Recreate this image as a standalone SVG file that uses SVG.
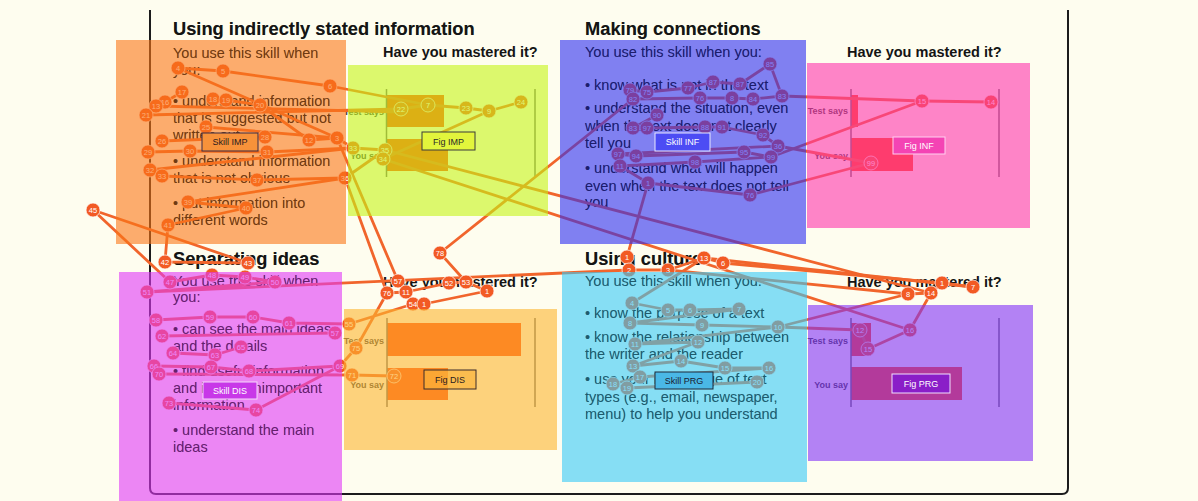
<svg xmlns="http://www.w3.org/2000/svg" width="1198" height="501" viewBox="0 0 1198 501">
<defs>
<style>
  .pg{font-family:"Liberation Sans",Arial,sans-serif;fill:#141414}
  .h{font-size:18.3px;font-weight:bold}
  .hm{font-size:14.5px;font-weight:bold}
  .b{font-size:14.5px}
  .lab{font-family:"Liberation Sans",Arial,sans-serif;font-size:9px;font-weight:bold;fill:#3a3a3a;text-anchor:end}
  .axis{stroke:#6a6a6a;stroke-width:1.5}
  .bar{fill:#ff4a12}
  .lk{fill:none;stroke:#f1652c;stroke-width:2.8;stroke-linejoin:round;stroke-linecap:round}
  .fx circle{fill:#f25a24;stroke:#ffffff;stroke-opacity:.7;stroke-width:1}
  .fx text{font-family:"Liberation Sans",Arial,sans-serif;font-size:7.5px;fill:#ffffff;text-anchor:middle}
  .aoi{fill-opacity:.6}
  .tag rect{stroke-width:1}
  .tag text{font-family:"Liberation Sans",Arial,sans-serif;font-size:9px;text-anchor:middle}
</style>
<!-- turns any drawing into a black silhouette -->
<filter id="silhouette" x="0" y="0" width="1" height="1">
  <feColorMatrix type="matrix" values="0 0 0 0 0  0 0 0 0 0  0 0 0 0 0  0 0 0 1 0"/>
</filter>
<!-- keeps the text shade off the gaze marks -->
<mask id="gaze-free" maskUnits="userSpaceOnUse" x="0" y="0" width="1198" height="501">
  <rect x="0" y="0" width="1198" height="501" fill="#ffffff"/>
  <g filter="url(#silhouette)">
    <use href="#saccades"/>
    <use href="#fixations"/>
  </g>
</mask>
</defs>

<!-- page background and frame -->
<rect x="0" y="0" width="1198" height="501" fill="#fefdef"/>
<path d="M150,10 V488 Q150,494 156,494 H1062 Q1068,494 1068,488 V10" fill="none" stroke="#1c1c1c" stroke-width="2"/>

<!-- section: Using indirectly stated information -->
<g id="sec-imp" class="pg">
  <text class="h" x="173" y="35">Using indirectly stated information</text>
  <text class="b" x="173" y="58">You use this skill when</text>
  <text class="b" x="173" y="75">you:</text>
  <text class="b" x="173" y="106">• understand information</text>
  <text class="b" x="173" y="123">that is suggested but not</text>
  <text class="b" x="173" y="140">written out</text>
  <text class="b" x="173" y="166">• understand information</text>
  <text class="b" x="173" y="183">that is not obvious</text>
  <text class="b" x="173" y="208">• put information into</text>
  <text class="b" x="173" y="225">different words</text>
</g>

<!-- section: Making connections -->
<g id="sec-inf" class="pg">
  <text class="h" x="585" y="35">Making connections</text>
  <text class="b" x="585" y="57">You use this skill when you:</text>
  <text class="b" x="585" y="90">• know what is not in the text</text>
  <text class="b" x="585" y="113">• understand the situation, even</text>
  <text class="b" x="585" y="131">when the text does not clearly</text>
  <text class="b" x="585" y="148">tell you</text>
  <text class="b" x="585" y="173">• understand what will happen</text>
  <text class="b" x="585" y="191">even when the text does not tell</text>
  <text class="b" x="585" y="207">you</text>
</g>

<!-- section: Separating ideas -->
<g id="sec-dis" class="pg">
  <text class="h" x="173" y="265">Separating ideas</text>
  <text class="b" x="173" y="286">You use this skill when</text>
  <text class="b" x="173" y="302">you:</text>
  <text class="b" x="173" y="334">• can see the main ideas</text>
  <text class="b" x="173" y="351">and the details</text>
  <text class="b" x="173" y="376">• find useful information</text>
  <text class="b" x="173" y="393">and ignore unimportant</text>
  <text class="b" x="173" y="410">information</text>
  <text class="b" x="173" y="435">• understand the main</text>
  <text class="b" x="173" y="452">ideas</text>
</g>

<!-- section: Using culture -->
<g id="sec-prg" class="pg">
  <text class="h" x="585" y="265">Using culture</text>
  <text class="b" x="585" y="286">You use this skill when you:</text>
  <text class="b" x="585" y="318">• know the purpose of a text</text>
  <text class="b" x="585" y="342">• know the relationship between</text>
  <text class="b" x="585" y="359">the writer and the reader</text>
  <text class="b" x="585" y="384">• use your knowledge of text</text>
  <text class="b" x="585" y="402">types (e.g., email, newspaper,</text>
  <text class="b" x="585" y="419">menu) to help you understand</text>
</g>

<!-- self-check charts -->
<g id="chart-imp">
  <text class="pg hm" x="383" y="57">Have you mastered it?</text>
  <rect class="bar" x="387" y="95" width="57" height="32"/>
  <rect class="bar" x="387" y="139" width="61" height="32"/>
  <line class="axis" x1="386.5" y1="89" x2="386.5" y2="177"/>
  <line class="axis" x1="535" y1="89" x2="535" y2="177"/>
  <text class="lab" x="384" y="115">Test says</text>
  <text class="lab" x="384" y="159">You say</text>
</g>
<g id="chart-inf">
  <text class="pg hm" x="847" y="57">Have you mastered it?</text>
  <rect class="bar" x="851" y="95" width="7" height="32"/>
  <rect class="bar" x="851" y="138" width="62" height="33"/>
  <line class="axis" x1="851" y1="89" x2="851" y2="177"/>
  <line class="axis" x1="999" y1="89" x2="999" y2="177"/>
  <text class="lab" x="848" y="114">Test says</text>
  <text class="lab" x="848" y="159">You say</text>
</g>
<g id="chart-dis">
  <text class="pg hm" x="383" y="287">Have you mastered it?</text>
  <rect class="bar" x="387" y="323" width="134" height="33"/>
  <rect class="bar" x="387" y="368" width="61" height="32"/>
  <line class="axis" x1="387" y1="318" x2="387" y2="407"/>
  <line class="axis" x1="535" y1="318" x2="535" y2="407"/>
  <text class="lab" x="384" y="344">Test says</text>
  <text class="lab" x="384" y="388">You say</text>
</g>
<g id="chart-prg">
  <text class="pg hm" x="847" y="287">Have you mastered it?</text>
  <rect class="bar" x="851" y="323" width="20" height="33"/>
  <rect class="bar" x="851" y="367" width="111" height="33"/>
  <line class="axis" x1="851" y1="318" x2="851" y2="407"/>
  <line class="axis" x1="999" y1="318" x2="999" y2="407"/>
  <text class="lab" x="848" y="344">Test says</text>
  <text class="lab" x="848" y="388">You say</text>
</g>

<!-- gaze plot: saccades -->
<g id="saccades" class="lk">
  <polyline points="178,68 223,71 330,86 428,105"/>
  <polyline points="178,68 337,138"/>
  <polyline points="146,115 401,109"/>
  <polyline points="156,106 401,112"/>
  <polyline points="165,102 182,92"/>
  <polyline points="213,99 226,100 260,105 309,140 337,138 353,148 385,150"/>
  <polyline points="206,127 337,138"/>
  <polyline points="162,141 265,137"/>
  <polyline points="148,152 190,151 267,152 353,148"/>
  <polyline points="150,170 353,148"/>
  <polyline points="162,176 257,180 345,178"/>
  <polyline points="345,178 188,202 246,208 168,225 165,262 248,263"/>
  <polyline points="345,178 385,150"/>
  <polyline points="345,178 387,293"/>
  <polyline points="337,138 398,281"/>
  <polyline points="401,109 428,105 466,108 489,111 521,102"/>
  <polyline points="489,111 383,159"/>
  <polyline points="385,150 931,293"/>
  <polyline points="383,159 910,330"/>
  <polyline points="248,263 93,210 170,282 212,275 245,277 275,282 147,292 629,270"/>
  <polyline points="156,320 210,317 253,317 289,323 349,324"/>
  <polyline points="162,336 335,333"/>
  <polyline points="173,353 215,355 241,347"/>
  <polyline points="154,366 211,367 249,371 340,366"/>
  <polyline points="159,374 352,375 394,376"/>
  <polyline points="356,348 340,366 256,410 169,403"/>
  <polyline points="349,324 413,304 424,304 487,291 466,282 449,283 406,292 387,293 356,348"/>
  <polyline points="440,253 466,282"/>
  <polyline points="440,253 633,99"/>
  <polyline points="633,99 630,90 647,92 688,88 713,82 740,84 770,64 782,96 753,99 732,98 700,98 633,99"/>
  <polyline points="782,96 922,101 991,102"/>
  <polyline points="922,101 771,157"/>
  <polyline points="657,115 633,128 647,128 705,127 722,127 763,135 778,146 618,154 636,156 744,152 771,157 695,162 620,166 648,183 750,195 871,163"/>
  <polyline points="778,146 871,163"/>
  <polyline points="648,183 627,257 629,270 668,270 704,258 723,263"/>
  <polyline points="723,263 942,283"/>
  <polyline points="704,258 973,287"/>
  <polyline points="668,270 908,294"/>
  <polyline points="908,294 931,293 942,283 973,287"/>
  <polyline points="931,293 910,330 868,349 860,330"/>
  <polyline points="908,294 778,327"/>
  <polyline points="704,258 632,303 668,310 690,310 739,309 630,323 702,325 778,327 635,344 698,342 633,366 681,361 725,368 769,368 640,377 613,384 627,388 757,382"/>
  <polyline points="778,327 860,330"/>
</g>

<!-- gaze plot: fixations -->
<g id="fixations">
  <g class="fx" transform="translate(178,68)"><circle r="7"/><text y="2.7">4</text></g>
  <g class="fx" transform="translate(223,71)"><circle r="7"/><text y="2.7">5</text></g>
  <g class="fx" transform="translate(330,86)"><circle r="7"/><text y="2.7">6</text></g>
  <g class="fx" transform="translate(182,92)"><circle r="7"/><text y="2.7">17</text></g>
  <g class="fx" transform="translate(165,102)"><circle r="7"/><text y="2.7">16</text></g>
  <g class="fx" transform="translate(156,106)"><circle r="7"/><text y="2.7">13</text></g>
  <g class="fx" transform="translate(146,115)"><circle r="7"/><text y="2.7">21</text></g>
  <g class="fx" transform="translate(213,99)"><circle r="7"/><text y="2.7">18</text></g>
  <g class="fx" transform="translate(226,100)"><circle r="7"/><text y="2.7">19</text></g>
  <g class="fx" transform="translate(260,105)"><circle r="7"/><text y="2.7">20</text></g>
  <g class="fx" transform="translate(206,127)"><circle r="7"/><text y="2.7">25</text></g>
  <g class="fx" transform="translate(162,141)"><circle r="7"/><text y="2.7">26</text></g>
  <g class="fx" transform="translate(265,137)"><circle r="7"/><text y="2.7">28</text></g>
  <g class="fx" transform="translate(309,140)"><circle r="7"/><text y="2.7">12</text></g>
  <g class="fx" transform="translate(337,138)"><circle r="7"/><text y="2.7">3</text></g>
  <g class="fx" transform="translate(148,152)"><circle r="7"/><text y="2.7">29</text></g>
  <g class="fx" transform="translate(190,151)"><circle r="7"/><text y="2.7">30</text></g>
  <g class="fx" transform="translate(267,152)"><circle r="7"/><text y="2.7">31</text></g>
  <g class="fx" transform="translate(150,170)"><circle r="7"/><text y="2.7">32</text></g>
  <g class="fx" transform="translate(162,176)"><circle r="7"/><text y="2.7">33</text></g>
  <g class="fx" transform="translate(257,180)"><circle r="7"/><text y="2.7">37</text></g>
  <g class="fx" transform="translate(345,178)"><circle r="7"/><text y="2.7">36</text></g>
  <g class="fx" transform="translate(188,202)"><circle r="7"/><text y="2.7">39</text></g>
  <g class="fx" transform="translate(246,208)"><circle r="7"/><text y="2.7">40</text></g>
  <g class="fx" transform="translate(168,225)"><circle r="7"/><text y="2.7">41</text></g>
  <g class="fx" transform="translate(93,210)"><circle r="7"/><text y="2.7">45</text></g>
  <g class="fx" transform="translate(353,148)"><circle r="7"/><text y="2.7">33</text></g>
  <g class="fx" transform="translate(401,109)"><circle r="7"/><text y="2.7">22</text></g>
  <g class="fx" transform="translate(428,105)"><circle r="7"/><text y="2.7">7</text></g>
  <g class="fx" transform="translate(466,108)"><circle r="7"/><text y="2.7">23</text></g>
  <g class="fx" transform="translate(489,111)"><circle r="7"/><text y="2.7">9</text></g>
  <g class="fx" transform="translate(521,102)"><circle r="7"/><text y="2.7">24</text></g>
  <g class="fx" transform="translate(385,150)"><circle r="7"/><text y="2.7">35</text></g>
  <g class="fx" transform="translate(383,159)"><circle r="7"/><text y="2.7">34</text></g>
  <g class="fx" transform="translate(165,262)"><circle r="7"/><text y="2.7">42</text></g>
  <g class="fx" transform="translate(248,263)"><circle r="7"/><text y="2.7">43</text></g>
  <g class="fx" transform="translate(212,275)"><circle r="7"/><text y="2.7">48</text></g>
  <g class="fx" transform="translate(245,277)"><circle r="7"/><text y="2.7">49</text></g>
  <g class="fx" transform="translate(170,282)"><circle r="7"/><text y="2.7">47</text></g>
  <g class="fx" transform="translate(275,282)"><circle r="7"/><text y="2.7">50</text></g>
  <g class="fx" transform="translate(147,292)"><circle r="7"/><text y="2.7">51</text></g>
  <g class="fx" transform="translate(156,320)"><circle r="7"/><text y="2.7">58</text></g>
  <g class="fx" transform="translate(210,317)"><circle r="7"/><text y="2.7">59</text></g>
  <g class="fx" transform="translate(253,317)"><circle r="7"/><text y="2.7">60</text></g>
  <g class="fx" transform="translate(289,323)"><circle r="7"/><text y="2.7">61</text></g>
  <g class="fx" transform="translate(335,333)"><circle r="7"/><text y="2.7">57</text></g>
  <g class="fx" transform="translate(162,336)"><circle r="7"/><text y="2.7">62</text></g>
  <g class="fx" transform="translate(173,353)"><circle r="7"/><text y="2.7">64</text></g>
  <g class="fx" transform="translate(215,355)"><circle r="7"/><text y="2.7">63</text></g>
  <g class="fx" transform="translate(241,347)"><circle r="7"/><text y="2.7">65</text></g>
  <g class="fx" transform="translate(154,366)"><circle r="7"/><text y="2.7">66</text></g>
  <g class="fx" transform="translate(159,374)"><circle r="7"/><text y="2.7">70</text></g>
  <g class="fx" transform="translate(211,367)"><circle r="7"/><text y="2.7">67</text></g>
  <g class="fx" transform="translate(249,371)"><circle r="7"/><text y="2.7">68</text></g>
  <g class="fx" transform="translate(340,366)"><circle r="7"/><text y="2.7">69</text></g>
  <g class="fx" transform="translate(169,403)"><circle r="7"/><text y="2.7">73</text></g>
  <g class="fx" transform="translate(256,410)"><circle r="7"/><text y="2.7">74</text></g>
  <g class="fx" transform="translate(349,324)"><circle r="7"/><text y="2.7">55</text></g>
  <g class="fx" transform="translate(356,348)"><circle r="7"/><text y="2.7">75</text></g>
  <g class="fx" transform="translate(352,375)"><circle r="7"/><text y="2.7">71</text></g>
  <g class="fx" transform="translate(394,376)"><circle r="7"/><text y="2.7">72</text></g>
  <g class="fx" transform="translate(440,253)"><circle r="7"/><text y="2.7">78</text></g>
  <g class="fx" transform="translate(387,293)"><circle r="7"/><text y="2.7">76</text></g>
  <g class="fx" transform="translate(398,281)"><circle r="7"/><text y="2.7">57</text></g>
  <g class="fx" transform="translate(406,292)"><circle r="7"/><text y="2.7">11</text></g>
  <g class="fx" transform="translate(449,283)"><circle r="7"/><text y="2.7">52</text></g>
  <g class="fx" transform="translate(466,282)"><circle r="7"/><text y="2.7">53</text></g>
  <g class="fx" transform="translate(487,291)"><circle r="7"/><text y="2.7">1</text></g>
  <g class="fx" transform="translate(413,304)"><circle r="7"/><text y="2.7">54</text></g>
  <g class="fx" transform="translate(424,304)"><circle r="7"/><text y="2.7">1</text></g>
  <g class="fx" transform="translate(770,64)"><circle r="7"/><text y="2.7">85</text></g>
  <g class="fx" transform="translate(630,90)"><circle r="7"/><text y="2.7">79</text></g>
  <g class="fx" transform="translate(647,92)"><circle r="7"/><text y="2.7">75</text></g>
  <g class="fx" transform="translate(688,88)"><circle r="7"/><text y="2.7">77</text></g>
  <g class="fx" transform="translate(713,82)"><circle r="7"/><text y="2.7">87</text></g>
  <g class="fx" transform="translate(740,84)"><circle r="7"/><text y="2.7">87</text></g>
  <g class="fx" transform="translate(633,99)"><circle r="7"/><text y="2.7">82</text></g>
  <g class="fx" transform="translate(700,98)"><circle r="7"/><text y="2.7">76</text></g>
  <g class="fx" transform="translate(732,98)"><circle r="7"/><text y="2.7">8</text></g>
  <g class="fx" transform="translate(753,99)"><circle r="7"/><text y="2.7">84</text></g>
  <g class="fx" transform="translate(782,96)"><circle r="7"/><text y="2.7">83</text></g>
  <g class="fx" transform="translate(657,115)"><circle r="7"/><text y="2.7">90</text></g>
  <g class="fx" transform="translate(633,128)"><circle r="7"/><text y="2.7">83</text></g>
  <g class="fx" transform="translate(647,128)"><circle r="7"/><text y="2.7">97</text></g>
  <g class="fx" transform="translate(705,127)"><circle r="7"/><text y="2.7">88</text></g>
  <g class="fx" transform="translate(722,127)"><circle r="7"/><text y="2.7">91</text></g>
  <g class="fx" transform="translate(763,135)"><circle r="7"/><text y="2.7">92</text></g>
  <g class="fx" transform="translate(778,146)"><circle r="7"/><text y="2.7">36</text></g>
  <g class="fx" transform="translate(618,154)"><circle r="7"/><text y="2.7">97</text></g>
  <g class="fx" transform="translate(636,156)"><circle r="7"/><text y="2.7">94</text></g>
  <g class="fx" transform="translate(744,152)"><circle r="7"/><text y="2.7">95</text></g>
  <g class="fx" transform="translate(771,157)"><circle r="7"/><text y="2.7">99</text></g>
  <g class="fx" transform="translate(695,162)"><circle r="7"/><text y="2.7">98</text></g>
  <g class="fx" transform="translate(620,166)"><circle r="7"/><text y="2.7">11</text></g>
  <g class="fx" transform="translate(648,183)"><circle r="7"/><text y="2.7">1</text></g>
  <g class="fx" transform="translate(750,195)"><circle r="7"/><text y="2.7">76</text></g>
  <g class="fx" transform="translate(922,101)"><circle r="7"/><text y="2.7">15</text></g>
  <g class="fx" transform="translate(991,102)"><circle r="7"/><text y="2.7">14</text></g>
  <g class="fx" transform="translate(871,163)"><circle r="7"/><text y="2.7">99</text></g>
  <g class="fx" transform="translate(627,257)"><circle r="7"/><text y="2.7">1</text></g>
  <g class="fx" transform="translate(629,270)"><circle r="7"/><text y="2.7">2</text></g>
  <g class="fx" transform="translate(668,270)"><circle r="7"/><text y="2.7">3</text></g>
  <g class="fx" transform="translate(704,258)"><circle r="7"/><text y="2.7">13</text></g>
  <g class="fx" transform="translate(723,263)"><circle r="7"/><text y="2.7">6</text></g>
  <g class="fx" transform="translate(632,303)"><circle r="7"/><text y="2.7">4</text></g>
  <g class="fx" transform="translate(668,310)"><circle r="7"/><text y="2.7">5</text></g>
  <g class="fx" transform="translate(690,310)"><circle r="7"/><text y="2.7">6</text></g>
  <g class="fx" transform="translate(739,309)"><circle r="7"/><text y="2.7">7</text></g>
  <g class="fx" transform="translate(630,323)"><circle r="7"/><text y="2.7">8</text></g>
  <g class="fx" transform="translate(702,325)"><circle r="7"/><text y="2.7">9</text></g>
  <g class="fx" transform="translate(778,327)"><circle r="7"/><text y="2.7">10</text></g>
  <g class="fx" transform="translate(635,344)"><circle r="7"/><text y="2.7">11</text></g>
  <g class="fx" transform="translate(698,342)"><circle r="7"/><text y="2.7">12</text></g>
  <g class="fx" transform="translate(633,366)"><circle r="7"/><text y="2.7">13</text></g>
  <g class="fx" transform="translate(681,361)"><circle r="7"/><text y="2.7">14</text></g>
  <g class="fx" transform="translate(725,368)"><circle r="7"/><text y="2.7">15</text></g>
  <g class="fx" transform="translate(769,368)"><circle r="7"/><text y="2.7">16</text></g>
  <g class="fx" transform="translate(640,377)"><circle r="7"/><text y="2.7">17</text></g>
  <g class="fx" transform="translate(613,384)"><circle r="7"/><text y="2.7">18</text></g>
  <g class="fx" transform="translate(627,388)"><circle r="7"/><text y="2.7">19</text></g>
  <g class="fx" transform="translate(757,382)"><circle r="7"/><text y="2.7">20</text></g>
  <g class="fx" transform="translate(908,294)"><circle r="7"/><text y="2.7">8</text></g>
  <g class="fx" transform="translate(931,293)"><circle r="7"/><text y="2.7">14</text></g>
  <g class="fx" transform="translate(942,283)"><circle r="7"/><text y="2.7">1</text></g>
  <g class="fx" transform="translate(973,287)"><circle r="7"/><text y="2.7">7</text></g>
  <g class="fx" transform="translate(860,330)"><circle r="7"/><text y="2.7">12</text></g>
  <g class="fx" transform="translate(868,349)"><circle r="7"/><text y="2.7">15</text></g>
  <g class="fx" transform="translate(910,330)"><circle r="7"/><text y="2.7">16</text></g>
</g>

<!-- areas of interest -->
<g id="aoi-skill-imp"><rect class="aoi" x="116" y="40" width="230" height="204" fill="#fa7615"/></g>
<g id="aoi-fig-imp"><rect class="aoi" x="348" y="65" width="200" height="151" fill="#c5f515"/></g>
<g id="aoi-skill-inf"><rect class="aoi" x="560" y="40" width="246" height="204" fill="#2c2df1"/></g>
<g id="aoi-fig-inf"><rect class="aoi" x="807" y="63" width="223" height="165" fill="#fe33ab"/></g>
<g id="aoi-skill-dis"><rect class="aoi" x="119" y="272" width="223" height="229" fill="#e037f7"/></g>
<g id="aoi-fig-dis"><rect class="aoi" x="344" y="309" width="213" height="141" fill="#fbb52f"/></g>
<g id="aoi-skill-prg"><rect class="aoi" x="562" y="272" width="245" height="210" fill="#36c9f7"/></g>
<g id="aoi-fig-prg"><rect class="aoi" x="808" y="305" width="225" height="156" fill="#8030f7"/></g>

<!-- faint re-ink of the page copy so it stays dark beneath the tinted areas -->
<g id="text-shade" opacity=".35" mask="url(#gaze-free)">
  <use href="#sec-imp"/>
  <use href="#sec-inf"/>
  <use href="#sec-dis"/>
  <use href="#sec-prg"/>
</g>

<!-- AOI name tags -->
<g id="tag-skill-imp" class="tag"><rect x="202" y="133" width="56" height="18" fill="#f7923a" stroke="#3b2a44"/><text x="230" y="145" fill="#2a1a20">Skill IMP</text></g>
<g id="tag-fig-imp" class="tag"><rect x="422" y="132" width="53" height="18" fill="#e2f53c" stroke="#3a3a3a"/><text x="448.5" y="144.5" fill="#2a2a2a">Fig IMP</text></g>
<g id="tag-skill-inf" class="tag"><rect x="655" y="133" width="55" height="18" fill="#4c4cf4" stroke="#e8e8ff"/><text x="682.5" y="145" fill="#ffffff">Skill INF</text></g>
<g id="tag-fig-inf" class="tag"><rect x="893" y="137" width="52" height="17" fill="#f444b4" stroke="#ffd0f0"/><text x="919" y="149" fill="#ffffff">Fig INF</text></g>
<g id="tag-skill-dis" class="tag"><rect x="203" y="382" width="54" height="17" fill="#c838e8" stroke="#f4d8fa"/><text x="230" y="394" fill="#ffffff">Skill DIS</text></g>
<g id="tag-fig-dis" class="tag"><rect x="424" y="370" width="52" height="19" fill="#f9b43c" fill-opacity=".7" stroke="#3a2a2a"/><text x="450" y="383" fill="#2a2020">Fig DIS</text></g>
<g id="tag-skill-prg" class="tag"><rect x="655" y="372" width="58" height="17" fill="#4ab8e6" stroke="#1e2a3a"/><text x="684" y="384" fill="#1a2030">Skill PRG</text></g>
<g id="tag-fig-prg" class="tag"><rect x="892" y="374" width="58" height="19" fill="#8a1ec8" stroke="#f0e0ff"/><text x="921" y="387" fill="#ffffff">Fig PRG</text></g>
</svg>
